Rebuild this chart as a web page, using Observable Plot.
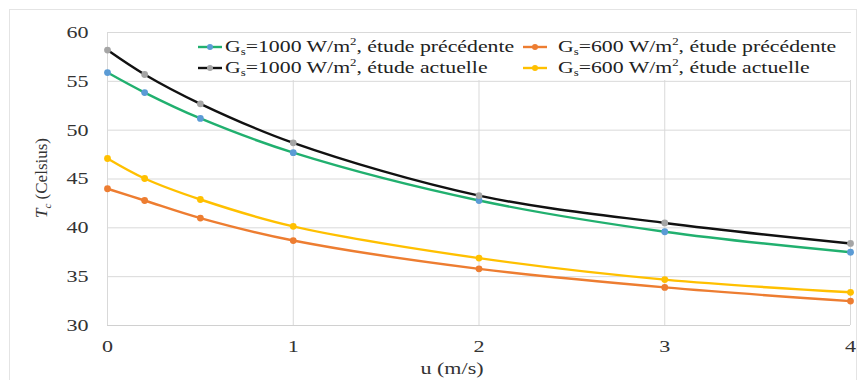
<!DOCTYPE html>
<html><head><meta charset="utf-8">
<script src="https://cdn.jsdelivr.net/npm/d3@7"></script>
<script src="https://cdn.jsdelivr.net/npm/@observablehq/plot@0.6"></script>
<style>
body{margin:0;background:#fff;font-family:'Liberation Serif',serif;}
#wrap{position:relative;width:866px;height:380px;font-family:'Liberation Serif',serif;}
#frame{position:absolute;left:9px;top:9px;width:848px;height:380px;border:1px solid #e4e4e4;box-sizing:border-box;pointer-events:none;}
#legend{position:absolute;left:195px;top:33px;width:656px;height:47px;background:#fff;font-size:17px;color:#222;font-family:'Liberation Serif',serif;}
.sw{position:absolute;}
.txt{position:absolute;white-space:nowrap;transform:scaleX(1.28);transform-origin:0 50%;font-family:'Liberation Serif',serif;line-height:20px;}
sub{font-size:10px;vertical-align:-3px;line-height:0;}
sup{font-size:10px;vertical-align:7px;line-height:0;}
</style></head>
<body><div id="wrap"><div id="chart"></div><div id="frame"></div><div id="legend"></div></div>
<script>
const u = [0, 0.2, 0.5, 1, 2, 3, 4];
const greenPrev1000 = [55.9, 53.85, 51.2, 47.7, 42.8, 39.6, 37.5];
const blackCurr1000 = [58.2, 55.7, 52.7, 48.7, 43.3, 40.5, 38.4];
const orangePrev600 = [44.0, 42.8, 41.0, 38.7, 35.8, 33.9, 32.5];
const yellowCurr600 = [47.1, 45.05, 42.9, 40.15, 36.9, 34.7, 33.4];
const xTicks = [0, 1, 2, 3, 4];
const yTicks = [30, 35, 40, 45, 50, 55, 60];

const seriesDefs = [
  {key:"g1000p", vals:greenPrev1000, line:"#21b06f", dot:"#5b9bd5", label:["1000","étude précédente"]},
  {key:"o600p", vals:orangePrev600, line:"#ed7d31", dot:"#ed7d31", label:["600","étude précédente"]},
  {key:"b1000c", vals:blackCurr1000, line:"#111111", dot:"#a5a5a5", label:["1000","étude actuelle"]},
  {key:"y600c", vals:yellowCurr600, line:"#ffc000", dot:"#ffc000", label:["600","étude actuelle"]}
];
const drawOrder = ["y600c","o600p","g1000p","b1000c"];
const FONT = "'Liberation Serif', serif";
const marks = [
  Plot.gridX(xTicks, {stroke:"#d9d9d9", strokeOpacity:1}),
  Plot.gridY(yTicks.slice(1), {stroke:"#d9d9d9", strokeOpacity:1}),
  Plot.ruleY([30], {stroke:"#d0d0d0", strokeWidth:1.2})
];
for (const k of drawOrder) {
  const s = seriesDefs.find(d => d.key === k);
  const data = u.map((x,i) => ({x, y:s.vals[i]}));
  marks.push(Plot.line(data, {x:"x", y:"y", stroke:s.line, strokeWidth:2.4, curve:"catmull-rom"}));
  marks.push(Plot.dot(data, {x:"x", y:"y", fill:s.dot, r:3.4}));
}
marks.push(Plot.axisX(xTicks, {tickSize:0, tickPadding:14, fontSize:17, label:null, tickFormat:d=>d, fill:"#333"}));
marks.push(Plot.axisY(yTicks, {tickSize:0, tickPadding:19, fontSize:17, label:null, fill:"#333"}));

const chart = Plot.plot({
  width:866, height:380,
  marginLeft:107, marginRight:16, marginTop:32, marginBottom:55,
  style:{fontFamily:FONT, background:"transparent"},
  x:{domain:[0,4]}, y:{domain:[30,60]},
  marks
});
document.getElementById("chart").appendChild(chart);
const svg = d3.select(chart);
svg.attr("font-family", FONT);
// reference text is horizontally stretched: scale tick labels about their anchor (x only)
svg.selectAll("text").each(function() {
  const t = d3.select(this);
  const xa = t.attr("x");
  const xn = xa == null ? 0 : +xa;
  if (!isFinite(xn)) return;
  const tr = t.attr("transform") || "";
  t.attr("x", null)
   .attr("transform", `${tr} translate(${xn},0) scale(1.3,1)`)
   .attr("font-family", FONT);
});
const yl = svg.append("text").attr("transform","translate(47,178) rotate(-90)")
  .attr("text-anchor","middle").attr("font-size",17).attr("fill","#333")
  .attr("font-family",FONT);
yl.append("tspan").attr("font-style","italic").text("T");
yl.append("tspan").attr("font-style","italic").attr("font-size",11).attr("dy",4).text("c");
yl.append("tspan").attr("dy",-4).text(" (Celsius)");
svg.append("text").attr("transform","translate(452,374) scale(1.3,1)").attr("text-anchor","middle")
  .attr("font-size",17).attr("fill","#333").attr("font-family",FONT).text("u (m/s)");

const legend = document.getElementById("legend");
const pos = {g1000p:[3,30,4], o600p:[328,363,4], b1000c:[3,30,25], y600c:[328,363,25]};
for (const s of seriesDefs) {
  const [sx, tx, ty] = pos[s.key];
  const sw = document.createElement("div");
  sw.className = "sw"; sw.style.left = sx+"px"; sw.style.top = (ty+5)+"px";
  sw.innerHTML = `<svg width="24" height="10" style="display:block"><line x1="0" x2="24" y1="5" y2="5" stroke="${s.line}" stroke-width="2.4"/><circle cx="12" cy="5" r="3" fill="${s.dot}"/></svg>`;
  legend.appendChild(sw);
  const tx_ = document.createElement("div");
  tx_.className = "txt"; tx_.style.left = tx+"px"; tx_.style.top = ty+"px";
  tx_.innerHTML = `G<sub>s</sub>=${s.label[0]} W/m<sup>2</sup>, ${s.label[1]}`;
  legend.appendChild(tx_);
}
</script></body></html>
